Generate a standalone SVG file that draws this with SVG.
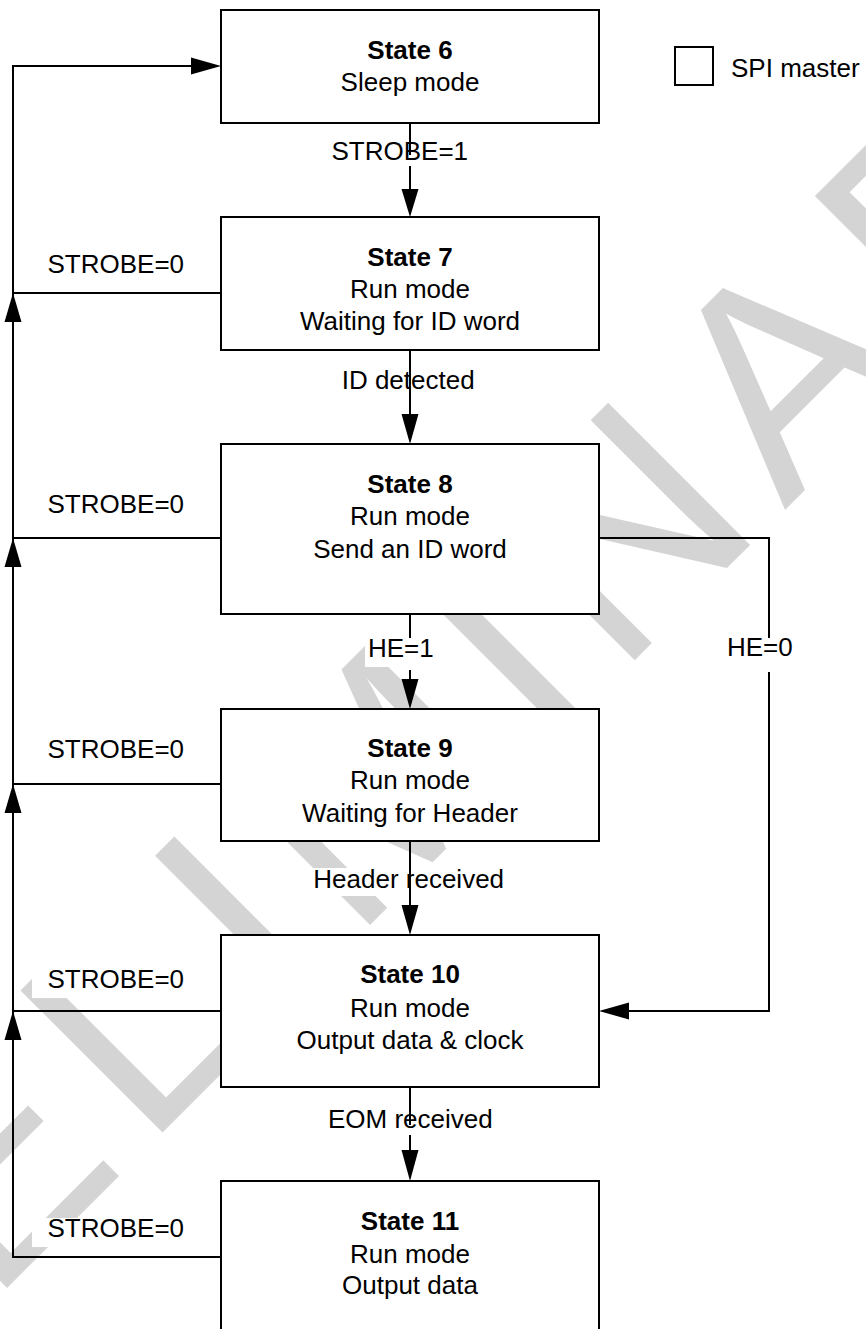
<svg xmlns="http://www.w3.org/2000/svg" width="866" height="1329" viewBox="0 0 866 1329">
<style>
  .box { fill: #ffffff; stroke: #000000; stroke-width: 2; }
  .t { font-family: "Liberation Sans", Arial, Helvetica, sans-serif; font-size: 26px; fill: #000000; }
  .c { text-anchor: middle; }
  .b { font-weight: bold; }
  .ln { fill: none; stroke: #000000; stroke-width: 2; }
  .ah { fill: #000000; stroke: none; }
  .bg { fill: #ffffff; stroke: none; }
  .wm { font-family: "Liberation Sans", Arial, Helvetica, sans-serif; font-size: 292px; letter-spacing: 25px; fill: #d4d4d4; }
</style>
<rect x="0" y="0" width="866" height="1329" fill="#ffffff"/>
<g id="watermark">
  <text class="wm" x="-332" y="1627" transform="rotate(-45 -332 1627)">PRELIMINARY</text>
</g>
<g id="label-backgrounds">
  <rect class="bg" x="32" y="253" width="160" height="30"/>
  <rect class="bg" x="32" y="493" width="160" height="30"/>
  <rect class="bg" x="32" y="738" width="160" height="30"/>
  <rect class="bg" x="32" y="968" width="160" height="30"/>
  <rect class="bg" x="32" y="1218" width="160" height="29"/>
  <rect class="bg" x="328" y="140" width="144" height="26"/>
  <rect class="bg" x="338" y="369" width="141" height="28"/>
  <rect class="bg" x="365" y="637" width="68" height="30"/>
  <rect class="bg" x="310" y="868" width="198" height="28"/>
  <rect class="bg" x="325" y="1108" width="171" height="27"/>
  <rect class="bg" x="724" y="636" width="72" height="30"/>
</g>
<g id="state6">
  <rect class="box" x="221" y="10" width="378" height="113"/>
  <text class="t c b" x="410" y="59">State 6</text>
  <text class="t c" x="410" y="91">Sleep mode</text>
</g>
<g id="state7">
  <rect class="box" x="221" y="217" width="378" height="133"/>
  <text class="t c b" x="410" y="266">State 7</text>
  <text class="t c" x="410" y="298">Run mode</text>
  <text class="t c" x="410" y="330">Waiting for ID word</text>
</g>
<g id="state8">
  <rect class="box" x="221" y="444" width="378" height="170"/>
  <text class="t c b" x="410" y="493">State 8</text>
  <text class="t c" x="410" y="525">Run mode</text>
  <text class="t c" x="410" y="558">Send an ID word</text>
</g>
<g id="state9">
  <rect class="box" x="221" y="709" width="378" height="132"/>
  <text class="t c b" x="410" y="757">State 9</text>
  <text class="t c" x="410" y="789">Run mode</text>
  <text class="t c" x="410" y="822">Waiting for Header</text>
</g>
<g id="state10">
  <rect class="box" x="221" y="935" width="378" height="152"/>
  <text class="t c b" x="410" y="983">State 10</text>
  <text class="t c" x="410" y="1017">Run mode</text>
  <text class="t c" x="410" y="1049">Output data &amp; clock</text>
</g>
<g id="state11">
  <rect class="box" x="221" y="1181" width="378" height="170"/>
  <text class="t c b" x="410" y="1230">State 11</text>
  <text class="t c" x="410" y="1263">Run mode</text>
  <text class="t c" x="410" y="1294">Output data</text>
</g>
<g id="legend">
  <rect class="box" x="675" y="47" width="38" height="38"/>
  <text class="t" x="731" y="77">SPI master</text>
</g>
<g id="connectors">
  <path class="ln" d="M221,1257 H13 V66 H192"/>
  <polygon class="ah" points="221,66 191,57.5 191,74.5"/>
  <path class="ln" d="M221,293 H13"/>
  <path class="ln" d="M221,538 H13"/>
  <path class="ln" d="M221,784 H13"/>
  <path class="ln" d="M221,1011 H13"/>
  <polygon class="ah" points="13,293 4.5,322 21.5,322"/>
  <polygon class="ah" points="13,538 4.5,567 21.5,567"/>
  <polygon class="ah" points="13,784 4.5,813 21.5,813"/>
  <polygon class="ah" points="13,1011 4.5,1040 21.5,1040"/>
  <path class="ln" d="M410,123 V155 M410,166 V192"/>
  <polygon class="ah" points="410,217 401.5,189 418.5,189"/>
  <path class="ln" d="M410,350 V416"/>
  <polygon class="ah" points="410,444 401.5,414 418.5,414"/>
  <path class="ln" d="M410,614 V638 M410,670 V682"/>
  <polygon class="ah" points="410,709 401.5,679 418.5,679"/>
  <path class="ln" d="M410,841 V907"/>
  <polygon class="ah" points="410,935 401.5,905 418.5,905"/>
  <path class="ln" d="M410,1087 V1125 M410,1135 V1153"/>
  <polygon class="ah" points="410,1181 401.5,1150 418.5,1150"/>
  <path class="ln" d="M599,538 H769 V638 M769,672 V1011 H627"/>
  <polygon class="ah" points="599,1011 629,1002.5 629,1019.5"/>
</g>
<g id="labels">
  <text class="t" x="47.5" y="273">STROBE=0</text>
  <text class="t" x="47.5" y="513">STROBE=0</text>
  <text class="t" x="47.5" y="758">STROBE=0</text>
  <text class="t" x="47.5" y="988">STROBE=0</text>
  <text class="t" x="47.5" y="1237">STROBE=0</text>
  <text class="t" x="331.5" y="160">STROBE=1</text>
  <text class="t" x="341.7" y="389">ID detected</text>
  <text class="t" x="368" y="657">HE=1</text>
  <text class="t" x="313.3" y="888">Header received</text>
  <text class="t" x="328" y="1128">EOM received</text>
  <text class="t" x="727" y="656">HE=0</text>
</g>
</svg>
